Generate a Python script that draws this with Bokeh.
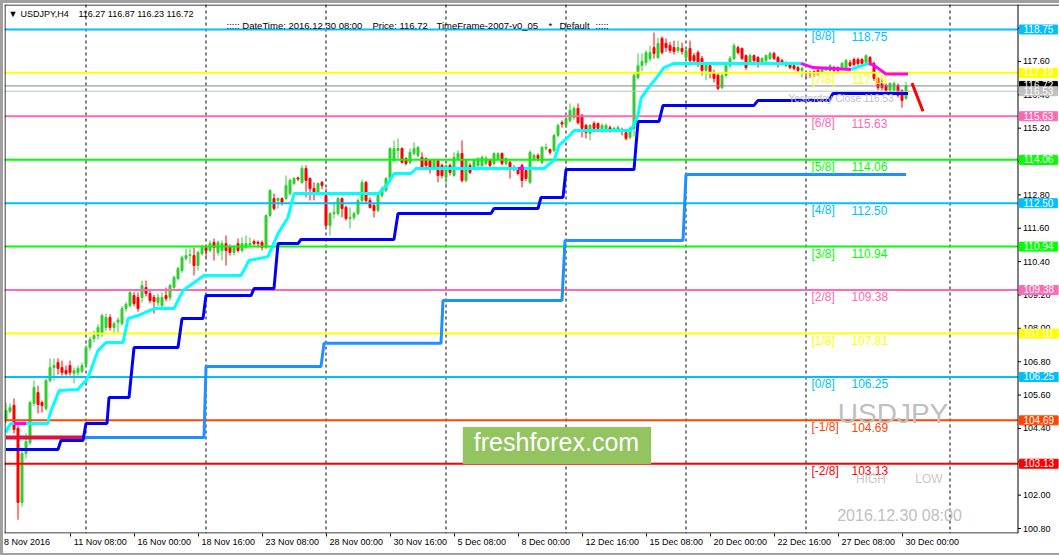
from bokeh.plotting import figure
from bokeh.models import (Range1d, FixedTicker, Label, LabelSet, ColumnDataSource, Span,
                          LinearAxis)
from bokeh.core.properties import value
from bokeh.embed import file_html
from bokeh.resources import INLINE

# ---------------- data ----------------
symbol = "USDJPY"
timeframe = "H4"
last_ohlc = "116.27 116.87 116.23 116.72"

opens = [
    104.72, 105.01, 105.23, 104.40, 101.74, 103.50, 103.89, 105.30, 105.69, 105.33,
    105.12, 106.12, 106.59, 106.77, 106.59, 106.48, 106.66, 106.38, 106.41, 106.45,
    106.70, 107.31, 107.63, 107.74, 107.81, 108.03, 108.39, 108.03, 108.22, 108.17,
    108.71, 108.82, 109.18, 109.11, 109.11, 109.47, 109.25, 109.11, 108.93, 108.82,
    109.18, 109.11, 109.47, 109.79, 110.08, 110.51, 110.62, 110.62, 110.26, 110.69,
    110.91, 110.80, 111.09, 110.73, 110.80, 111.05, 110.94, 110.73, 111.05, 110.80,
    110.91, 111.00, 111.12, 111.09, 111.09, 110.91, 112.06, 112.67, 112.60, 112.67,
    112.67, 112.85, 113.21, 113.41, 113.25, 113.75, 113.39, 113.03, 112.85, 113.25,
    112.78, 111.70, 112.13, 112.13, 112.67, 112.35, 111.95, 111.99, 112.13, 112.60,
    113.25, 112.60, 112.42, 112.24, 112.78, 112.96, 113.39, 114.04, 114.40, 114.47,
    114.11, 113.97, 114.29, 114.22, 114.15, 114.11, 114.04, 113.79, 114.04, 113.86,
    113.43, 113.86, 113.50, 114.11, 114.29, 113.32, 113.86, 113.75, 113.86, 113.86,
    113.93, 114.07, 113.93, 114.11, 114.29, 113.93, 113.97, 113.79, 113.75, 113.86,
    113.68, 113.25, 114.11, 114.22, 113.97, 114.47, 114.43, 114.40, 114.94, 115.40,
    115.30, 115.48, 115.58, 115.91, 115.66, 115.30, 115.01, 115.37, 115.37, 115.12,
    115.19, 115.22, 115.15, 115.15, 115.15, 115.04, 114.87, 115.19, 117.02, 117.45,
    117.56, 117.70, 118.10, 117.74, 118.43, 118.25, 118.17, 118.10, 117.99, 118.07,
    117.74, 118.07, 117.81, 117.92, 117.71, 117.28, 117.45, 117.17, 117.10, 116.66,
    117.10, 117.45, 117.71, 118.10, 118.07, 117.81, 117.56, 117.81, 117.74, 117.56,
    117.63, 117.71, 117.89, 117.74, 117.63, 117.45, 117.53, 117.45, 117.38, 117.28,
    117.22, 117.22, 117.24, 117.28, 117.20, 117.30, 117.28, 117.38, 117.38, 117.35,
    117.38, 117.56, 117.67, 117.67, 117.67, 117.56, 117.74, 117.53, 116.99, 116.81,
    116.74, 116.56, 116.56, 116.74, 116.56, 116.27]

highs = [
    105.33, 105.30, 105.48, 104.50, 103.71, 104.22, 105.40, 106.12, 105.94, 105.40,
    106.20, 106.92, 106.92, 106.92, 106.84, 106.66, 106.84, 106.59, 106.66, 106.77,
    107.38, 107.70, 107.92, 108.14, 108.53, 108.53, 108.50, 108.25, 108.39, 108.80,
    108.95, 109.36, 109.30, 109.29, 109.72, 109.72, 109.36, 109.20, 109.25, 109.29,
    109.47, 109.60, 109.90, 110.22, 110.62, 110.87, 110.87, 110.90, 110.80, 111.00,
    111.00, 111.16, 111.23, 111.16, 111.16, 111.34, 111.02, 111.00, 111.23, 111.27,
    111.34, 111.27, 111.20, 111.16, 111.16, 112.10, 113.00, 112.85, 112.71, 112.71,
    113.50, 113.39, 113.45, 113.46, 113.86, 113.86, 113.43, 113.25, 113.25, 113.30,
    113.03, 112.17, 112.53, 112.74, 112.71, 112.42, 112.35, 112.20, 112.67, 113.35,
    113.30, 112.71, 112.50, 112.89, 113.10, 113.45, 114.51, 114.76, 114.83, 114.51,
    114.15, 114.47, 114.69, 114.55, 114.33, 114.15, 114.08, 114.08, 114.10, 113.93,
    113.90, 113.93, 114.33, 114.40, 114.76, 114.10, 113.95, 114.10, 114.15, 114.22,
    114.20, 114.11, 114.33, 114.33, 114.33, 114.15, 114.04, 113.86, 113.79, 113.93,
    113.72, 114.40, 114.29, 114.29, 114.55, 114.65, 114.47, 115.00, 115.37, 115.48,
    115.62, 116.09, 115.98, 116.09, 115.72, 115.35, 115.35, 115.45, 115.40, 115.37,
    115.37, 115.30, 115.26, 115.30, 115.22, 115.10, 115.26, 117.20, 117.89, 117.89,
    118.00, 118.17, 118.64, 118.46, 118.50, 118.43, 118.30, 118.35, 118.35, 118.28,
    118.10, 118.35, 117.90, 118.00, 117.80, 117.60, 117.55, 117.30, 117.20, 117.20,
    117.50, 117.80, 118.25, 118.17, 118.10, 117.85, 117.89, 117.85, 117.80, 117.75,
    117.85, 117.96, 117.95, 117.80, 117.70, 117.63, 117.58, 117.50, 117.45, 117.42,
    117.24, 117.24, 117.28, 117.35, 117.40, 117.45, 117.50, 117.45, 117.42, 117.58,
    117.70, 117.65, 117.74, 117.74, 117.72, 117.85, 117.80, 117.60, 117.05, 116.99,
    116.81, 116.84, 116.88, 116.81, 116.60, 116.87]

lows = [
    104.58, 104.94, 104.22, 101.12, 101.59, 103.32, 103.80, 105.20, 104.94, 104.97,
    105.04, 106.05, 106.12, 106.34, 106.30, 106.30, 106.30, 106.02, 106.30, 106.38,
    106.62, 107.20, 107.50, 107.60, 107.70, 107.92, 107.92, 107.81, 107.85, 108.10,
    108.60, 108.75, 108.80, 108.60, 108.93, 109.15, 108.90, 108.53, 108.80, 108.75,
    108.97, 109.00, 109.40, 109.72, 110.00, 110.44, 110.33, 109.90, 110.08, 110.62,
    110.55, 110.73, 110.44, 110.62, 110.44, 110.26, 110.62, 110.62, 110.73, 110.73,
    110.85, 110.94, 110.98, 110.91, 110.80, 110.85, 111.99, 112.24, 112.31, 112.42,
    112.60, 112.78, 113.14, 113.30, 113.20, 112.71, 112.60, 112.60, 112.78, 113.00,
    111.65, 111.34, 111.95, 112.06, 111.99, 111.88, 111.59, 111.90, 112.06, 112.53,
    112.49, 112.31, 111.99, 112.17, 112.70, 112.90, 113.32, 113.97, 114.11, 113.93,
    113.86, 113.90, 114.22, 114.15, 113.75, 113.79, 113.57, 113.70, 113.25, 113.40,
    113.14, 113.50, 113.45, 114.04, 113.25, 113.25, 113.55, 113.68, 113.80, 113.79,
    113.86, 113.79, 113.86, 114.04, 113.86, 113.86, 113.39, 113.65, 113.50, 113.07,
    113.30, 113.20, 114.00, 114.00, 113.90, 114.40, 114.25, 114.33, 114.87, 115.22,
    115.22, 115.40, 115.50, 115.33, 114.87, 114.83, 114.76, 115.10, 115.08, 115.04,
    115.10, 115.04, 115.06, 115.08, 114.94, 114.76, 114.80, 114.90, 116.95, 117.25,
    117.45, 117.60, 117.70, 117.70, 117.85, 117.95, 117.90, 117.85, 117.90, 117.85,
    117.60, 117.55, 117.50, 117.40, 117.10, 116.92, 116.99, 116.84, 116.56, 116.60,
    117.02, 117.38, 117.65, 117.85, 117.65, 117.30, 117.50, 117.55, 117.38, 117.50,
    117.58, 117.65, 117.65, 117.38, 117.45, 117.40, 117.32, 117.28, 117.20, 117.02,
    116.99, 117.02, 117.05, 117.10, 117.15, 117.25, 117.20, 117.20, 117.22, 117.30,
    117.32, 117.40, 117.42, 117.45, 117.45, 117.50, 117.45, 116.90, 116.56, 116.56,
    116.45, 116.45, 116.50, 116.30, 115.94, 116.23]

closes = [
    105.04, 105.15, 104.36, 101.74, 103.50, 103.93, 105.33, 105.87, 105.26, 105.22,
    106.12, 106.59, 106.66, 106.56, 106.41, 106.38, 106.41, 106.48, 106.56, 106.66,
    107.31, 107.60, 107.74, 108.03, 108.46, 108.39, 108.03, 108.17, 108.30, 108.71,
    108.86, 109.29, 108.89, 108.71, 109.54, 109.25, 109.00, 108.97, 109.11, 109.11,
    109.07, 109.54, 109.83, 110.15, 110.55, 110.62, 110.65, 110.26, 110.73, 110.91,
    110.80, 111.05, 110.91, 111.09, 111.05, 110.80, 110.73, 110.91, 110.80, 111.05,
    111.05, 111.05, 111.05, 111.05, 110.91, 112.06, 112.96, 112.31, 112.67, 112.53,
    113.14, 113.32, 113.39, 113.37, 113.75, 113.32, 113.03, 112.89, 113.21, 113.14,
    111.70, 112.13, 112.17, 112.67, 112.31, 111.95, 111.99, 112.13, 112.60, 113.25,
    112.60, 112.35, 112.24, 112.78, 113.03, 113.39, 114.47, 114.47, 114.47, 113.97,
    113.93, 114.33, 114.47, 114.51, 113.79, 113.86, 113.75, 114.04, 113.50, 113.50,
    113.86, 113.61, 114.15, 114.29, 113.32, 114.04, 113.61, 114.04, 114.11, 114.15,
    114.11, 113.86, 114.29, 114.29, 113.93, 114.11, 113.75, 113.72, 113.57, 113.32,
    113.39, 114.33, 114.22, 114.11, 114.51, 114.51, 114.33, 114.94, 115.30, 115.35,
    115.55, 115.84, 115.91, 115.40, 115.19, 115.04, 115.30, 115.19, 115.19, 115.30,
    115.30, 115.12, 115.19, 115.22, 115.08, 114.83, 115.19, 117.10, 117.45, 117.60,
    117.92, 117.92, 117.89, 118.25, 117.92, 118.10, 117.99, 117.96, 118.10, 117.96,
    117.99, 117.63, 117.63, 117.56, 117.28, 117.49, 117.20, 116.99, 116.63, 117.10,
    117.45, 117.71, 118.17, 117.92, 117.71, 117.38, 117.81, 117.63, 117.56, 117.71,
    117.81, 117.89, 117.71, 117.56, 117.53, 117.56, 117.38, 117.35, 117.28, 117.35,
    117.18, 117.17, 117.20, 117.20, 117.35, 117.38, 117.45, 117.28, 117.28, 117.53,
    117.63, 117.45, 117.49, 117.53, 117.53, 117.81, 117.53, 116.99, 116.66, 116.66,
    116.56, 116.81, 116.81, 116.38, 116.20, 116.72]

first_time_label = "8 Nov 2016"
time_tick_bars = [16, 32, 48, 64, 80, 96, 112, 128, 144, 160, 176, 192, 208, 224]
time_tick_labels = ["11 Nov 08:00", "16 Nov 00:00", "18 Nov 16:00", "23 Nov 08:00",
                    "28 Nov 00:00", "30 Nov 16:00", "5 Dec 08:00", "8 Dec 00:00",
                    "12 Dec 16:00", "15 Dec 08:00", "20 Dec 00:00", "22 Dec 16:00",
                    "27 Dec 08:00", "30 Dec 00:00"]
week_start_bars = [20, 50, 80, 110, 140, 170, 200, 236]
price_ticks = [100.80, 102.00, 103.20, 104.40, 105.60, 106.80, 108.00, 109.20,
               110.40, 111.60, 112.80, 114.00, 115.20, 116.40, 117.60, 118.80]

mm_levels = [118.75, 117.19, 115.63, 114.06, 112.50, 110.94, 109.38, 107.81, 106.25, 104.69, 103.13]
mm_names = ["[8/8]", "[7/8]", "[6/8]", "[5/8]", "[4/8]", "[3/8]", "[2/8]", "[1/8]", "[0/8]", "[-1/8]", "[-2/8]"]
current_price = 116.72
yesterday_close = 116.53
stamp_time = "2016.12.30 08:00"

cyan_bars = [0, 0.5, 1.25, 10.5, 10.75, 11.25, 12, 13, 13.25, 18, 18.75, 20, 20.5, 23, 25, 29.25,
             30.5, 33, 37, 42, 44.25, 49.5, 58.75, 60.75, 65.5, 68, 70.5, 72, 93.25, 95.5, 97,
             101.25, 102.5, 134.5, 137, 138.25, 140.5, 142, 156.25, 158, 158.75, 160.5, 162.5,
             164.5, 167, 198.75]
cyan_vals = [104.25, 104.43, 104.58, 104.58, 104.79, 105.04, 105.30, 105.66, 105.76, 105.80,
             105.94, 106.12, 106.23, 107.20, 107.49, 107.49, 108.35, 108.46, 108.71, 108.71,
             109.36, 109.90, 109.90, 110.44, 110.58, 111.41, 111.99, 112.85, 112.85, 113.21,
             113.57, 113.57, 113.75, 113.75, 114.04, 114.58, 114.87, 115.12, 115.12, 115.66,
             116.27, 116.63, 116.99, 117.38, 117.53, 117.53]
cyan2_bars = [211.25, 213.25, 215.75]
cyan2_vals = [117.31, 117.42, 117.53]
magenta1_bars = [198.75, 201.75, 211.25]
magenta1_vals = [117.53, 117.38, 117.31]
magenta2_bars = [215.75, 216.75, 218.75, 220, 225.5]
magenta2_vals = [117.53, 117.48, 117.28, 117.15, 117.15]
magenta3_bars = [2, 5]
magenta3_vals = [104.58, 104.58]
magenta4_bars = [128, 129.5]
magenta4_vals = [113.75, 113.75]

blue_bars = [0, 13, 13.75, 19.25, 20, 25.25, 25.75, 30.75, 32, 43, 44, 49.25, 50, 61.25, 62, 67,
             68, 73, 73.75, 97, 98, 121.25, 122, 133, 133.75, 139.25, 140, 157, 158, 163.25,
             164.25, 187, 188, 205.75, 206.75, 225.5]
blue_vals = [103.64, 103.64, 103.97, 103.97, 104.58, 104.58, 105.51, 105.51, 107.31, 107.31,
             108.35, 108.35, 109.18, 109.18, 109.43, 109.43, 111.05, 111.05, 111.20, 111.20,
             112.13, 112.13, 112.31, 112.31, 112.71, 112.71, 113.71, 113.71, 115.44, 115.44,
             116.02, 116.02, 116.20, 116.20, 116.45, 116.45]

dodger_bars = [19.25, 49.5, 50, 78.75, 79.5, 108.75, 109.25, 139, 139.75, 169.25, 170, 225]
dodger_vals = [104.07, 104.07, 106.63, 106.63, 107.46, 107.46, 109.00, 109.00, 111.16, 111.16, 113.53, 113.53]
crimson_bars = [0, 19.25]
crimson_vals = [104.07, 104.07]

projection_bars = [226.5, 229.25]
projection_vals = [116.82, 115.81]

# ---------------- styles / layout ----------------
FONT = "Liberation Sans"
BULL = "#32CD32"
BEAR = "#FF0000"
WINDOW_GRAY = "#A0A0A0"
mm_colors = ["#00BFFF", "#FFFF00", "#FF69B4", "#00FF00", "#00BFFF", "#00FF00",
             "#FF69B4", "#FFFF00", "#00BFFF", "#FF4500", "#FF0000"]

PX_PER_BAR = 4.0
PX_PER_UNIT = 27.8
FRAME_LEFT, FRAME_TOP = 4, 4
FRAME_W, FRAME_H = 1055, 529
X0 = -0.375
X1 = X0 + FRAME_W / PX_PER_BAR
Y1 = 119.649
Y0 = Y1 - FRAME_H / PX_PER_UNIT


def dx(px):
    return X0 + (px - FRAME_LEFT) / PX_PER_BAR


def dy(py):
    return Y1 - (py - FRAME_TOP) / PX_PER_UNIT


CHAR_W = {"0": .556, "1": .556, "2": .556, "3": .556, "4": .556, "5": .556, "6": .556,
          "7": .556, "8": .556, "9": .556, " ": .278, ":": .278, ".": .278, "N": .722,
          "o": .556, "v": .5, "D": .722, "e": .556, "c": .5}


def text_w(s, size):
    return sum(CHAR_W.get(ch, .556) for ch in s) * size


AXIS_X = dx(1017.5)

p = figure(frame_width=FRAME_W, frame_height=FRAME_H,
           x_range=Range1d(X0, X1), y_range=Range1d(Y0, Y1),
           output_backend="svg", toolbar_location=None, y_axis_location=None,
           min_border_left=FRAME_LEFT, min_border_top=FRAME_TOP,
           min_border_bottom=555 - FRAME_TOP - FRAME_H, min_border_right=0,
           background_fill_color="white", border_fill_color=None)
p.outline_line_color = None
p.grid.visible = False
# grey window edge of the terminal (left, top, bottom)
p.styles = {
    "background-color": "white",
    "background-image": ("linear-gradient(%s, %s), linear-gradient(%s, %s), linear-gradient(%s, %s)"
                         % ((WINDOW_GRAY,) * 6)),
    "background-size": "3px 100%, 100% 3px, 100% 2px",
    "background-position": "left top, left top, left bottom",
    "background-repeat": "no-repeat",
}

# time axis: tick marks
xax = p.xaxis[0]
xax.ticker = FixedTicker(ticks=time_tick_bars)
xax.major_label_overrides = {t: "" for t in time_tick_bars}
xax.major_label_text_font_size = "0px"
xax.major_label_standoff = 0
xax.major_tick_out = 3
xax.major_tick_in = 0
xax.minor_tick_out = 0
xax.minor_tick_in = 0
xax.axis_line_color = None
xax.major_tick_line_color = "black"

# time axis: left-aligned labels (ticks placed half a label to the right)
lab_bars = [0] + time_tick_bars
lab_texts = [first_time_label] + time_tick_labels
lab_pos = []
for b, t in zip(lab_bars, lab_texts):
    lead = -2.0 if b == 0 else 3.5
    lab_pos.append(round(b + (lead + text_w(t, 9) / 2) / PX_PER_BAR, 3))
lab_axis = LinearAxis(ticker=FixedTicker(ticks=lab_pos),
                      major_label_overrides={pos: t for pos, t in zip(lab_pos, lab_texts)},
                      major_label_text_font=FONT, major_label_text_font_size="9px",
                      major_label_text_color="black", major_label_standoff=0,
                      major_tick_out=0, major_tick_in=0, minor_tick_out=0, minor_tick_in=0,
                      major_tick_line_color=None, minor_tick_line_color=None,
                      axis_line_color=None)
p.add_layout(lab_axis, "below")

# weekly dashed grid
for b in week_start_bars:
    p.add_layout(Span(location=b, dimension="height", line_color="black",
                      line_dash="3 3", line_width=1, level="underlay"))

# chart border and price-scale line
p.add_layout(Span(location=dx(4.5), dimension="height", line_color="black", line_width=1))
p.add_layout(Span(location=dy(4.5), dimension="width", line_color="black", line_width=1))
p.add_layout(Span(location=AXIS_X, dimension="height", line_color="black", line_width=1))
p.segment(x0=[X0], x1=[AXIS_X], y0=[dy(532.5)], y1=[dy(532.5)], line_color="black", line_width=1)

# candles
idx = list(range(len(closes)))
src = ColumnDataSource(dict(
    x=idx, o=opens, h=highs, l=lows, c=closes,
    top=[max(o, c) for o, c in zip(opens, closes)],
    bottom=[min(o, c) for o, c in zip(opens, closes)],
    color=[BULL if c >= o else BEAR for o, c in zip(opens, closes)]))
p.segment(x0="x", y0="l", x1="x", y1="h", line_color="color", line_width=1, source=src)
p.vbar(x="x", top="top", bottom="bottom", width=0.5, fill_color="color",
       line_color="color", line_width=1, source=src)

# Murrey math levels + price lines (stop at the price scale)
n = len(mm_levels)
p.segment(x0=[X0] * n, x1=[AXIS_X] * n, y0=mm_levels, y1=mm_levels,
          line_color=mm_colors, line_width=2)
p.segment(x0=[X0], x1=[AXIS_X], y0=[current_price], y1=[current_price],
          line_color="#778899", line_width=1)
p.segment(x0=[X0], x1=[AXIS_X], y0=[yesterday_close], y1=[yesterday_close],
          line_color="#C0C0C0", line_width=1)

# indicator lines
p.line(dodger_bars, dodger_vals, line_color="#1E90FF", line_width=3)
p.line(crimson_bars, crimson_vals, line_color="#DC143C", line_width=4)
p.line(blue_bars, blue_vals, line_color="#0000FF", line_width=3)
p.line(cyan_bars, cyan_vals, line_color="#00FFFF", line_width=3)
p.line(cyan2_bars, cyan2_vals, line_color="#00FFFF", line_width=3)
for bx, by in [(magenta1_bars, magenta1_vals), (magenta2_bars, magenta2_vals),
               (magenta3_bars, magenta3_vals), (magenta4_bars, magenta4_vals)]:
    p.line(bx, by, line_color="#FF00FF", line_width=3)
p.line(projection_bars, projection_vals, line_color="#FF0000", line_width=3)

# price scale: ticks and labels
m = len(price_ticks)
p.segment(x0=[AXIS_X] * m, x1=[AXIS_X + 3 / PX_PER_BAR] * m, y0=price_ticks, y1=price_ticks,
          line_color="black", line_width=1)
p.text(x=[AXIS_X] * m, y=price_ticks, text=["%.2f" % v for v in price_ticks], x_offset=5,
       text_font=value(FONT), text_font_size=value("9px"), text_color="black",
       text_align="left", text_baseline="middle")

# level texts inside the chart
lv_src = ColumnDataSource(dict(y=mm_levels, name=mm_names,
                               val=["%.2f" % v for v in mm_levels], color=mm_colors))
p.add_layout(LabelSet(x=dx(811), y="y", text="name", source=lv_src, text_color="color",
                      y_offset=-7, text_baseline="middle", text_align="left",
                      text_font=value(FONT), text_font_size="12px"))
p.add_layout(LabelSet(x=dx(851), y="y", text="val", source=lv_src, text_color="color",
                      y_offset=-7, text_baseline="middle", text_align="left",
                      text_font=value(FONT), text_font_size="12px"))
p.add_layout(Label(x=dx(788), y=yesterday_close, y_offset=-7,
                   text="Yesterday Close %.2f" % yesterday_close,
                   text_color="#C0C0C0", text_font=FONT, text_font_size="10px",
                   text_baseline="middle", text_align="left"))


def deco(text, px, py, size, color, align="left", **kw):
    p.add_layout(Label(x=dx(px), y=dy(py), text=text, text_font=FONT, text_font_size=size,
                       text_color=color, text_align=align, text_baseline="middle", **kw))


# header
deco("\u25BC", 8, 13, "9px", "black")
deco("%s,%s" % (symbol, timeframe), 20, 13, "9px", "black")
deco(last_ohlc, 78, 13, "9px", "black")
deco("::::: DateTime: %s" % stamp_time, 226, 25, "9.5px", "black")
deco("Price: %.2f" % current_price, 372, 25, "9.5px", "black")
deco("TimeFrame-2007-v0_05", 436, 25, "9.5px", "black")
deco("*", 548, 25, "9.5px", "black")
deco("Default", 559, 25, "9.5px", "black")
deco(":::::", 595, 25, "9.5px", "black")

# watermarks
deco(symbol, 892.5, 413, "28px", "#C0C0C0", align="center")
deco("HIGH", 870.5, 478, "12px", "#C8C8C8", align="center")
deco("LOW", 928.5, 478, "12px", "#C8C8C8", align="center")
deco(stamp_time, 899, 515, "16px", "#C0C0C0", align="center")
deco("freshforex.com", 556.5, 445, "25px", "white", align="center",
     background_fill_color="#93C460", padding=(11, 12, 1, 8))

# price boxes on the scale
box_levels = mm_levels + [current_price, yesterday_close]
box_colors = mm_colors + ["#000000", "#C0C0C0"]
for v, c in zip(box_levels, box_colors):
    p.add_layout(Label(x=dx(1019), y=v, text="%.2f" % v, text_font=FONT,
                       text_font_size="10px", text_color="white", text_align="left",
                       text_baseline="middle", background_fill_color=c,
                       border_line_color=c, padding=(4, 4, 0, 1)))

open("out.html", "w").write(file_html(p, INLINE))
